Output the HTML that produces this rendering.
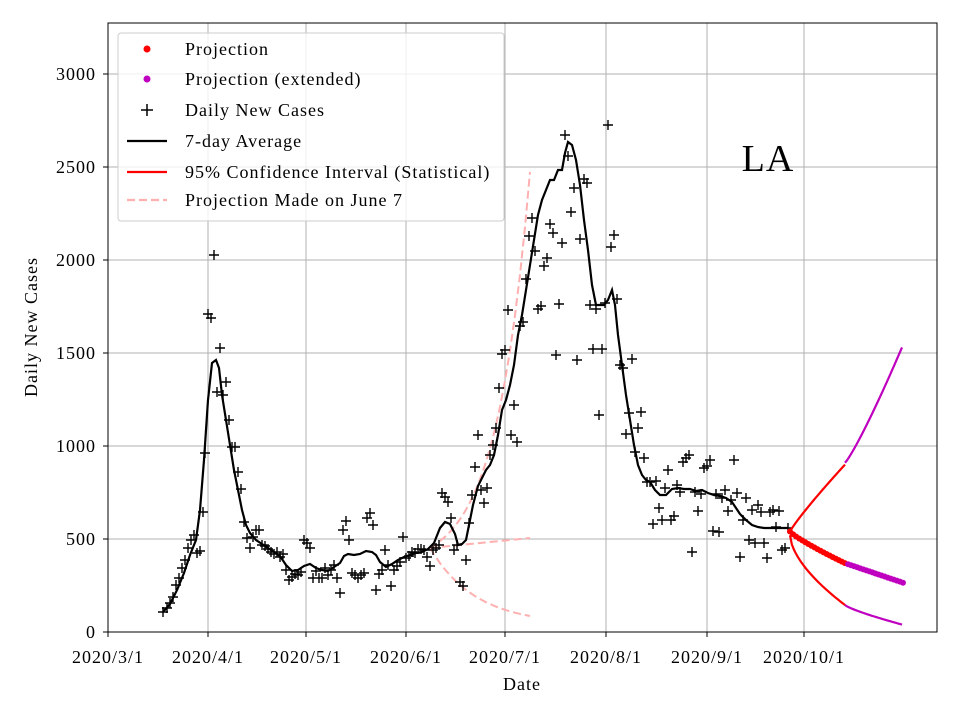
<!DOCTYPE html>
<html><head><meta charset="utf-8"><style>
body{margin:0;background:#fff}
svg text{font-family:"Liberation Serif",serif;fill:#000;letter-spacing:1px}
</style></head><body>
<svg id="s" width="960" height="720" xmlns="http://www.w3.org/2000/svg">
<rect width="960" height="720" fill="#fff"/>
<g stroke="#b0b0b0" stroke-width="1">
<line x1="108" y1="23" x2="108" y2="632"/><line x1="208" y1="23" x2="208" y2="632"/><line x1="306" y1="23" x2="306" y2="632"/><line x1="406" y1="23" x2="406" y2="632"/><line x1="505" y1="23" x2="505" y2="632"/><line x1="606" y1="23" x2="606" y2="632"/><line x1="707" y1="23" x2="707" y2="632"/><line x1="804" y1="23" x2="804" y2="632"/>
<line x1="108" y1="632" x2="937" y2="632"/><line x1="108" y1="539" x2="937" y2="539"/><line x1="108" y1="446" x2="937" y2="446"/><line x1="108" y1="353" x2="937" y2="353"/><line x1="108" y1="260" x2="937" y2="260"/><line x1="108" y1="167" x2="937" y2="167"/><line x1="108" y1="74" x2="937" y2="74"/>
</g>
<g id="d"></g>
<rect x="108" y="23" width="829" height="609" fill="none" stroke="#000" stroke-width="1"/>
<g stroke="#000"><line x1="108" y1="632" x2="108" y2="637"/><line x1="208" y1="632" x2="208" y2="637"/><line x1="306" y1="632" x2="306" y2="637"/><line x1="406" y1="632" x2="406" y2="637"/><line x1="505" y1="632" x2="505" y2="637"/><line x1="606" y1="632" x2="606" y2="637"/><line x1="707" y1="632" x2="707" y2="637"/><line x1="804" y1="632" x2="804" y2="637"/>
<line x1="103" y1="632" x2="108" y2="632"/><line x1="103" y1="539" x2="108" y2="539"/><line x1="103" y1="446" x2="108" y2="446"/><line x1="103" y1="353" x2="108" y2="353"/><line x1="103" y1="260" x2="108" y2="260"/><line x1="103" y1="167" x2="108" y2="167"/><line x1="103" y1="74" x2="108" y2="74"/></g>
<g font-size="18" text-anchor="middle">
<text x="108" y="663">2020/3/1</text><text x="208" y="663">2020/4/1</text><text x="306" y="663">2020/5/1</text><text x="406" y="663">2020/6/1</text><text x="505" y="663">2020/7/1</text><text x="606" y="663">2020/8/1</text><text x="707" y="663">2020/9/1</text><text x="804" y="663">2020/10/1</text>
<text x="522" y="690">Date</text>
</g>
<g font-size="18" text-anchor="end">
<text x="96" y="638">0</text><text x="96" y="545">500</text><text x="96" y="452">1000</text><text x="96" y="359">1500</text><text x="96" y="266">2000</text><text x="96" y="173">2500</text><text x="96" y="80">3000</text>
</g>
<text x="37" y="327" font-size="18" text-anchor="middle" transform="rotate(-90 37 327)">Daily New Cases</text>
<text x="768" y="171" font-size="38" text-anchor="middle">LA</text>
<g id="lg">
<rect x="118" y="33" width="386" height="188" rx="3" fill="#fff" fill-opacity="0.8" stroke="#ccc"/>
<circle cx="147" cy="49" r="3.5" fill="red"/>
<circle cx="147" cy="79" r="3.5" fill="#bf00bf"/>
<path d="M141 110h12M147 104v12" stroke="#000" stroke-width="1.5"/>
<line x1="127" y1="141" x2="167" y2="141" stroke="#000" stroke-width="2.2"/>
<line x1="127" y1="172" x2="167" y2="172" stroke="red" stroke-width="2.2"/>
<line x1="127" y1="200" x2="167" y2="200" stroke="#ffb0b0" stroke-width="2.2" stroke-dasharray="8,4"/>
<g font-size="18"><text x="185" y="55">Projection</text><text x="185" y="85">Projection (extended)</text><text x="185" y="116">Daily New Cases</text><text x="185" y="147">7-day Average</text><text x="185" y="178">95% Confidence Interval (Statistical)</text><text x="185" y="206">Projection Made on June 7</text></g>
</g>
</svg>
<script>
var NS="http://www.w3.org/2000/svg",g=document.getElementById('d');
function el(t,a){var e=document.createElementNS(NS,t);for(var k in a)e.setAttribute(k,a[k]);g.appendChild(e);return e;}
function pl(pts,c,w,da){var a={points:pts.map(p=>p.join(',')).join(' '),fill:'none',stroke:c,'stroke-width':w};if(da)a['stroke-dasharray']=da;el('polyline',a);}
var up=[],mid=[],lo=[];
for(var i=0;i<=20;i++){var x=430+i*5,t=i/20;up.push([x,548-(548-172)*(Math.exp(3*t)-1)/(Math.exp(3)-1)]);mid.push([x,548-10*t]);lo.push([x,548+68*(1-Math.exp(-2.2*t))/(1-Math.exp(-2.2))]);}
pl(up,'#ffb0b0',2,'8,4');pl(mid,'#ffb0b0',2,'8,4');pl(lo,'#ffb0b0',2,'8,4');
var sc="163,612;167,608;170,603;173,597;176,585;179,578;182,568;185,560;188,548;191,540;194,535;197,553;200,551;203,512;205,453;208,314;211,318;214,255;217,392;220,348;223,395;226,382;229,420;232,447;235,447;238,472;241,489;244,522;247,538;250,548;253,537;256,530;259,530;262,545;265,546;268,549;271,552;274,554;277,552;280,557;283,554;286,570;289,580;292,577;295,574;298,575;301,572;304,540;307,543;310,548;313,578;316,571;319,578;322,578;325,568;328,575;331,570;334,565;337,578;340,593;343,530;346,521;349,540;352,573;355,575;358,578;361,575;364,573;367,518;370,513;373,525;376,590;379,574;382,570;385,550;388,565;391,586;394,570;397,566;400,562;403,537;406,558;409,556;412,552;415,553;418,549;421,549;424,550;427,557;430,566;433,550;436,548;439,545;442,493;445,497;448,502;451,518;454,550;457,545;460,582;463,586;466,560;469,523;472,495;475,467;478,435;481,490;484,503;487,488;490,455;493,445;496,428;499,388;502,354;505,350;508,310;511,435;514,405;517,442;520,326;523,322;526,279;529,236;532,218;535,251;538,309;541,306;544,266;547,258;550,224;553,233;556,355;559,304;562,243;565,135;568,156;571,212;574,188;577,360;580,239;584,179;587,183;590,305;593,349;596,309;599,415;602,349;605,303;608,125;611,247;614,235;617,299;620,365;623,368;626,434;629,413;632,359;635,452;638,428;641,412;644,458;647,482;650,482;653,524;656,481;659,508;662,520;665,488;668,470;671,520;674,516;677,485;680,492;683,462;686,458;689,455;692,552;695,492;698,511;701,494;704,468;707,466;710,460;713,531;716,494;719,532;722,498;725,490;728,511;731,500;734,460;737,493;740,557;743,520;746,498;749,540;752,510;755,543;758,505;761,512;764,543;767,558;770,512;773,510;776,527;779,511;782,550;785,548;788,528";
var p="";sc.split(';').forEach(function(s){var q=s.split(',');p+="M"+(q[0]-5)+" "+q[1]+"h10M"+q[0]+" "+(q[1]-5)+"v10";});
el('path',{d:p,stroke:'#000','stroke-width':1.4,fill:'none'});
var av="163,612;170,604;177,590;184,573;190,555;196,540;200,510;204,460;208,400;212,363;216,360;219,368;222,395;226,420;230,445;234,470;238,490;242,510;246,525;250,533;256,540;262,544;268,548;274,552;280,556;286,565;292,571;298,570;304,566;310,564;316,568;322,570;328,571;334,567;340,563;344,556;348,554;354,555;360,554;366,551;372,552;376,555;380,562;386,567;392,564;398,560;404,557;410,555;416,553;422,552;428,549;434,543;440,528;445,522;450,524;455,534;458,545;462,544;466,540;469,525;473,505;478,486;482,478;486,470;490,465;494,455;498,435;502,410;506,400;510,385;514,365;518,335;522,315;526,290;530,265;534,240;538,215;542,200;546,190;550,180;554,180;558,170;562,170;565,153;568,142;572,145;576,160;580,185;584,220;588,250;592,285;596,305;600,305;604,305;608,300;612,290;615,305;618,335;622,365;626,395;630,420;634,445;638,465;642,475;646,480;650,482;655,490;660,495;666,495;672,489;678,488;684,489;690,489;696,491;702,490;708,493;714,495;720,496;726,498;732,502;736,508;740,514;746,520;752,525;758,527;764,528;770,528;776,528;782,528;788,528";
pl(av.split(';').map(s=>s.split(',')),'#000',2.2);
function v2y(v){return 632-v*0.186;}
var cu=[],cl=[],mu=[],ml=[];
for(var i=0;i<=30;i++){var t=i/30,x=790+55*t;cu.push([x,v2y(540+(900-540)*Math.pow(t,0.9))]);cl.push([x,v2y(520-(520-145)*Math.pow(t,0.6))]);}
for(var i=0;i<=30;i++){var t=i/30,x=845+57*t;mu.push([x,v2y(910+(1530-910)*Math.pow(t,1.15))]);ml.push([x,v2y(145-(145-40)*Math.pow(t,0.8))]);}
pl(cu,'red',2.2);pl(cl,'red',2.2);pl(mu,'#bf00bf',2.2);pl(ml,'#bf00bf',2.2);
for(var i=0;i<=18;i++){var x=790+i*3.05;el('circle',{cx:x,cy:v2y(540-(540-370)*Math.pow(i/18,0.85)),r:3,fill:'red'});}
for(var i=1;i<=19;i++){var x=845+i*3.05;el('circle',{cx:x,cy:v2y(370-(370-265)*(i/19)),r:3,fill:'#bf00bf'});}
</script>
</body></html>
